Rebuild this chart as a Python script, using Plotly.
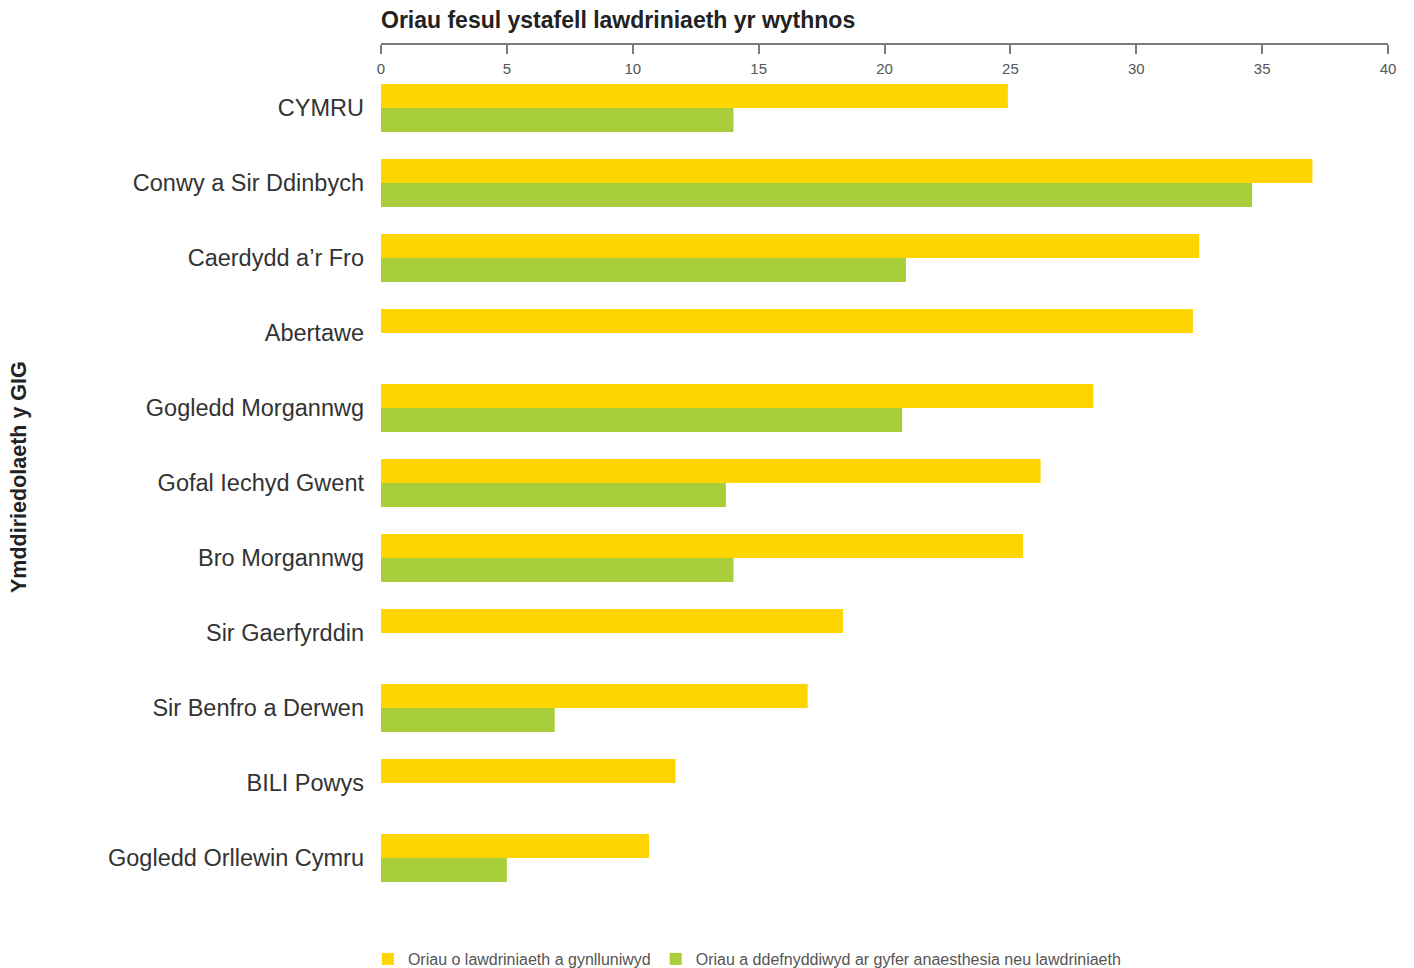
import plotly.graph_objects as go

categories = [
    "CYMRU",
    "Conwy a Sir Ddinbych",
    "Caerdydd a\u2019r Fro",
    "Abertawe",
    "Gogledd Morgannwg",
    "Gofal Iechyd Gwent",
    "Bro Morgannwg",
    "Sir Gaerfyrddin",
    "Sir Benfro a Derwen",
    "BILI Powys",
    "Gogledd Orllewin Cymru",
]
planned_hours = [24.9, 37.0, 32.5, 32.25, 28.3, 26.2, 25.5, 18.35, 16.95, 11.7, 10.65]
used_hours = [14.0, 34.6, 20.85, None, 20.7, 13.7, 14.0, None, 6.9, None, 5.0]
series_names = [
    "Oriau o lawdriniaeth a gynlluniwyd",
    "Oriau a ddefnyddiwyd ar gyfer anaesthesia neu lawdriniaeth",
]
x_ticks = [0, 5, 10, 15, 20, 25, 30, 35, 40]

YELLOW = "#FFD500"
GREEN = "#A8CF3B"
FONT = "Liberation Sans, Arial, sans-serif"

W, H = 1406, 960

fig = go.Figure()
fig.add_trace(go.Bar(y=categories, x=planned_hours, orientation="h",
                     name=series_names[0], marker=dict(color=YELLOW, line=dict(width=0))))
fig.add_trace(go.Bar(y=categories, x=used_hours, orientation="h",
                     name=series_names[1], marker=dict(color=GREEN, line=dict(width=0))))

fig.update_layout(
    width=W, height=H,
    margin=dict(l=373, r=26, t=36, b=46, pad=0, autoexpand=False),
    paper_bgcolor="white", plot_bgcolor="white",
    barmode="group", bargap=0.36, bargroupgap=0,
    font=dict(family=FONT, color="#333333"),
    showlegend=True,
    legend=dict(orientation="h", x=-0.013, xanchor="left",
                y=-20 / 878, yanchor="top",
                font=dict(size=16, color="#555555"), itemwidth=30,
                traceorder="normal", bgcolor="rgba(0,0,0,0)"),
    xaxis=dict(
        range=[0, 40], tickvals=x_ticks, ticktext=[str(t) for t in x_ticks],
        side="bottom", anchor="free", position=1,
        showline=True, linecolor="#7a7a7a", linewidth=1.5,
        ticks="outside", ticklen=9, tickwidth=1.5, tickcolor="#7a7a7a",
        ticklabelstandoff=2,
        showgrid=False, zeroline=False,
        tickfont=dict(size=15, color="#555555", family=FONT),
    ),
    yaxis=dict(
        categoryorder="array", categoryarray=categories,
        range=[10.853, -0.853],
        showline=False, showgrid=False, zeroline=False, ticks="",
        ticklabelstandoff=16,
        tickfont=dict(size=23.5, color="#333333", family=FONT),
    ),
    title=dict(text="<b>Oriau fesul ystafell lawdriniaeth yr wythnos</b>",
               x=(381 - 8) / W, xanchor="left", xref="container",
               y=1 - (19.5 - 8) / H, yanchor="middle", yref="container",
               font=dict(size=23, color="#222222", family=FONT)),
)

fig.add_annotation(text="<b>Ymddiriedolaeth y GIG</b>", textangle=-90,
                   xref="paper", yref="paper", x=(19 - 381) / 1007, y=(922 - 477) / 878,
                   xanchor="center", yanchor="middle", showarrow=False,
                   font=dict(size=21.5, color="#222222", family=FONT))

fig.write_html("out.html")
